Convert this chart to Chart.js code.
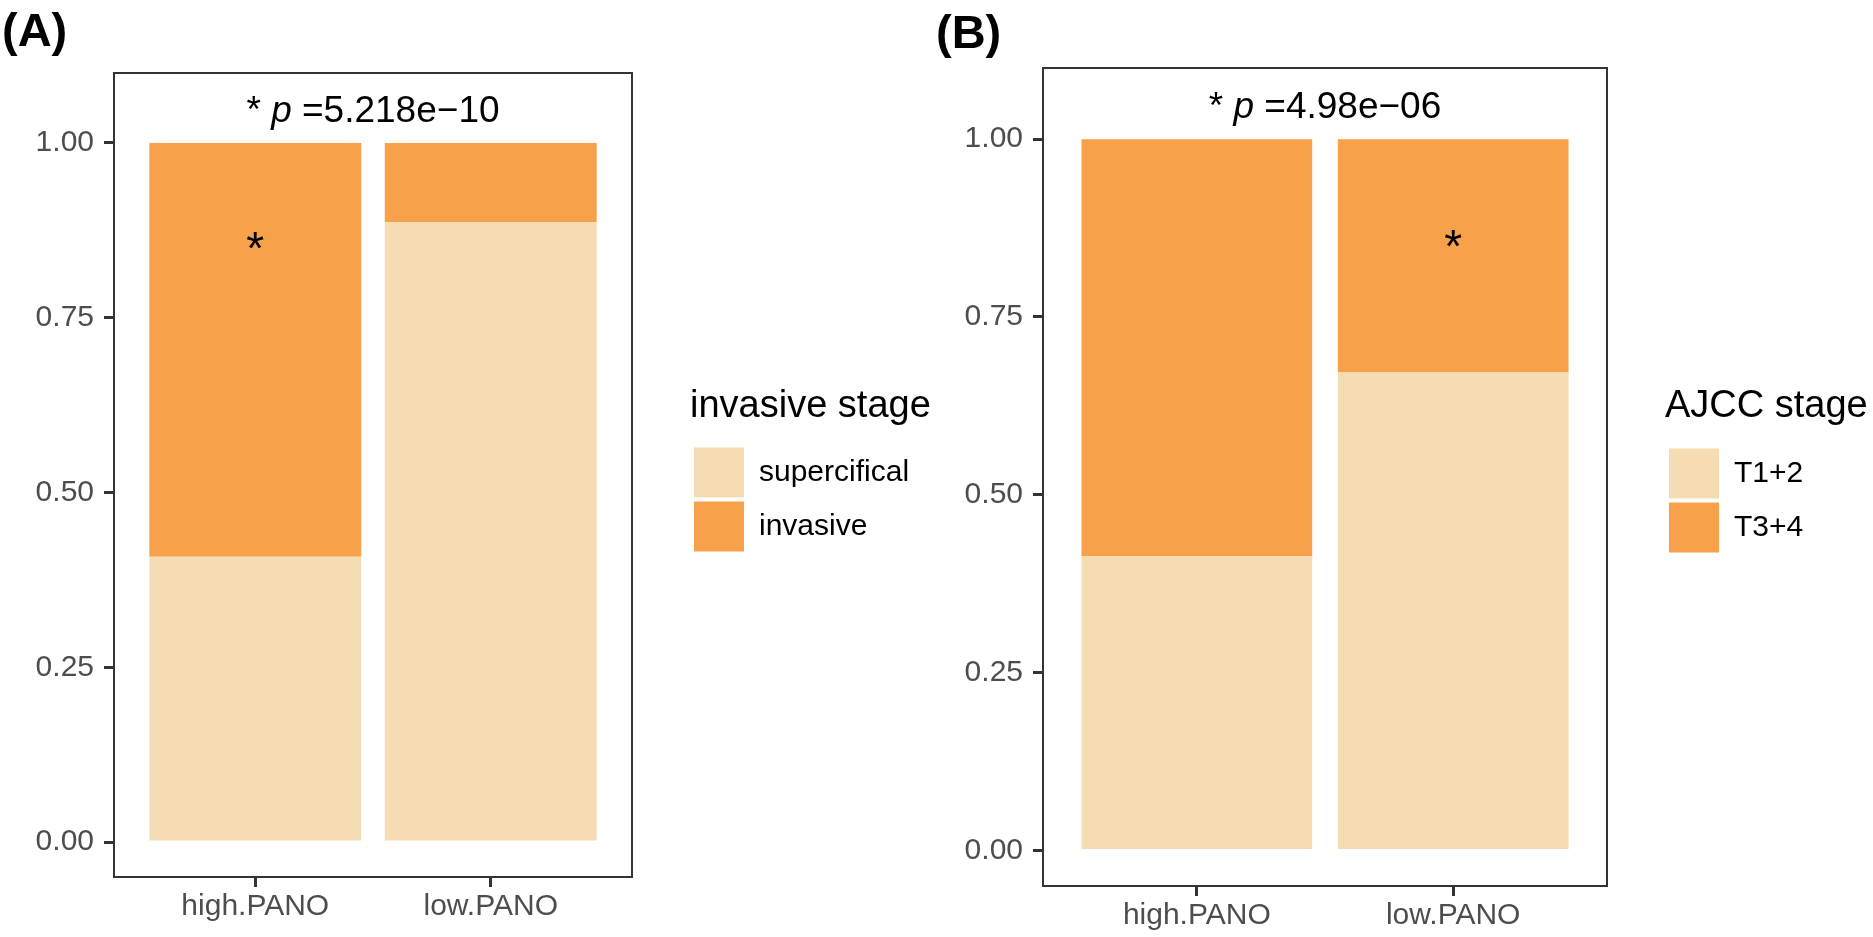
<!DOCTYPE html>
<html>
<head>
<meta charset="utf-8">
<title>PANO stage proportions</title>
<script src="https://cdn.jsdelivr.net/npm/chart.js@4.4.1/dist/chart.umd.min.js"></script>
<style>
  html, body { margin: 0; padding: 0; background: #fff; }
  body { width: 1873px; height: 937px; position: relative; overflow: hidden; }
  canvas { position: absolute; top: 0; }
  #chartA { left: 0; }
  #chartB { left: 900px; }
</style>
</head>
<body>
<canvas id="chartA" width="960" height="937"></canvas>
<canvas id="chartB" width="973" height="937"></canvas>
<script>
// data
const groups = ['high.PANO', 'low.PANO'];
const yTicks = [0, 0.25, 0.5, 0.75, 1];

// (A) invasive stage
const superficialShare = [0.408, 0.887];
const invasiveShare = [0.592, 0.113];

// (B) AJCC stage
const t12Share = [0.414, 0.672];
const t34Share = [0.586, 0.328];

// annotations
const pTextA = ['* ', 'p', ' =5.218e\u221210'];
const pTextB = ['* ', 'p', ' =4.98e\u221206'];
const pTextY = 1.03;   // baseline of the p-value label, in data units
const starY = 0.86;    // centre of the "*" marks

const FAMILY = "'Liberation Sans', Arial, Helvetica, sans-serif";
const LIGHT = '#F5DCB2';
const ORANGE = '#F7A24B';

Chart.defaults.font.family = FAMILY;

// box round the panel, p-value text, star and panel tag
const panelDecor = {
    id: 'panelDecor',
    afterDraw(chart, args, opts) {
        const ctx = chart.ctx;
        const a = chart.chartArea;
        const x = chart.scales.x;
        const y = chart.scales.y;
        ctx.save();

        ctx.strokeStyle = '#333';
        ctx.lineWidth = 2;
        ctx.strokeRect(a.left, a.top, a.right - a.left, a.bottom - a.top);

        // p-value with italic p
        ctx.fillStyle = '#000';
        ctx.textBaseline = 'alphabetic';
        ctx.textAlign = 'left';
        const fonts = ['37px ' + FAMILY, 'italic 37px ' + FAMILY, '37px ' + FAMILY];
        const widths = opts.pText.map((t, i) => {
            ctx.font = fonts[i];
            return ctx.measureText(t).width;
        });
        let px = x.getPixelForValue(1.5) - widths.reduce((s, w) => s + w, 0) / 2;
        const py = y.getPixelForValue(pTextY);
        opts.pText.forEach((t, i) => {
            ctx.font = fonts[i];
            ctx.fillText(t, px, py);
            px += widths[i];
        });

        // star over the significant segment
        ctx.font = '46px ' + FAMILY;
        ctx.textAlign = 'center';
        const m = ctx.measureText('*');
        const sy = y.getPixelForValue(starY) + (m.actualBoundingBoxAscent - m.actualBoundingBoxDescent) / 2;
        ctx.fillText('*', x.getPixelForValue(opts.starAt + 1), sy);

        // panel tag
        ctx.font = 'bold 47px ' + FAMILY;
        ctx.textAlign = 'left';
        ctx.fillText(opts.tag, opts.tagX, opts.tagY);

        ctx.restore();
    }
};

// give the legend a fixed width so the panel and legend sit where they should
const legendWidth = {
    id: 'legendWidth',
    afterInit(chart, args, opts) {
        const lg = chart.legend;
        const fit = lg.fit;
        lg.fit = function () {
            fit.call(this);
            this.width = opts.width;
        };
    }
};

function makePanel(canvasId, cfg) {
    const ctx = document.getElementById(canvasId).getContext('2d');
    return new Chart(ctx, {
        type: 'bar',
        data: {
            datasets: [{
                label: cfg.names[0],
                data: cfg.lower.map((v, i) => ({ x: i + 1, y: v })),
                backgroundColor: LIGHT,
                borderWidth: 0,
                categoryPercentage: 0.9,
                barPercentage: 1.0
            }, {
                label: cfg.names[1],
                data: cfg.upper.map((v, i) => ({ x: i + 1, y: v })),
                backgroundColor: ORANGE,
                borderWidth: 0,
                categoryPercentage: 0.9,
                barPercentage: 1.0
            }]
        },
        options: {
            responsive: false,
            animation: false,
            devicePixelRatio: 1,
            layout: {
                padding: { left: 0, top: cfg.top, right: 0, bottom: 0 }
            },
            plugins: {
                tooltip: { enabled: false },
                legend: {
                    position: 'right',
                    align: 'start',
                    title: {
                        display: true,
                        text: cfg.legendTitle,
                        position: 'start',
                        color: '#000',
                        font: { size: 38, lineHeight: 1.2 },
                        padding: { top: cfg.titlePadTop, bottom: cfg.titlePadBottom }
                    },
                    labels: {
                        boxWidth: 50,
                        boxHeight: 50,
                        padding: 4,
                        color: '#000',
                        font: { size: 30 }
                    }
                },
                legendWidth: { width: cfg.legendW },
                panelDecor: {
                    tag: cfg.tag,
                    tagX: cfg.tagX,
                    tagY: cfg.tagY,
                    pText: cfg.pText,
                    starAt: cfg.starAt
                }
            },
            scales: {
                x: {
                    type: 'linear',
                    min: 0.4,
                    max: 2.6,
                    stacked: true,
                    offset: false,
                    afterBuildTicks: (s) => { s.ticks = groups.map((g, i) => ({ value: i + 1 })); },
                    ticks: {
                        callback: (v, i) => groups[i],
                        color: '#4d4d4d',
                        font: { size: 30 },
                        padding: 2,
                        maxRotation: 0,
                        autoSkip: false
                    },
                    grid: { offset: false, drawOnChartArea: false, tickLength: 10, color: '#333', lineWidth: 3 },
                    border: { display: false },
                    afterFit: (s) => { s.height = cfg.xHeight; }
                },
                y: {
                    min: -0.05,
                    max: 1.1,
                    stacked: true,
                    afterBuildTicks: (s) => { s.ticks = yTicks.map(v => ({ value: v })); },
                    ticks: {
                        callback: (v) => v.toFixed(2),
                        color: '#4d4d4d',
                        font: { size: 30 },
                        padding: 10
                    },
                    grid: { drawOnChartArea: false, tickLength: 10, color: '#333', lineWidth: 3 },
                    border: { display: false },
                    afterFit: (s) => { s.width = cfg.yWidth; }
                },
                // empty strip between the panel and its legend
                gap: {
                    position: 'right',
                    min: 0,
                    max: 1,
                    grid: { display: false },
                    border: { display: false },
                    ticks: { display: false },
                    afterFit: (s) => { s.width = 58; }
                }
            }
        },
        plugins: [panelDecor, legendWidth]
    });
}

const chartA = makePanel('chartA', {
    names: ['supercifical', 'invasive'],
    lower: superficialShare,
    upper: invasiveShare,
    legendTitle: 'invasive stage',
    pText: pTextA,
    starAt: 0,
    tag: '(A)', tagX: 2, tagY: 46,
    top: 73, legendW: 270,
    titlePadTop: 315, titlePadBottom: 10,
    xHeight: 60, yWidth: 114
});

const chartB = makePanel('chartB', {
    names: ['T1+2', 'T3+4'],
    lower: t12Share,
    upper: t34Share,
    legendTitle: 'AJCC stage',
    pText: pTextB,
    starAt: 1,
    tag: '(B)', tagX: 36, tagY: 48,
    top: 68, legendW: 208,
    titlePadTop: 320, titlePadBottom: 11,
    xHeight: 51, yWidth: 143
});
</script>
</body>
</html>
